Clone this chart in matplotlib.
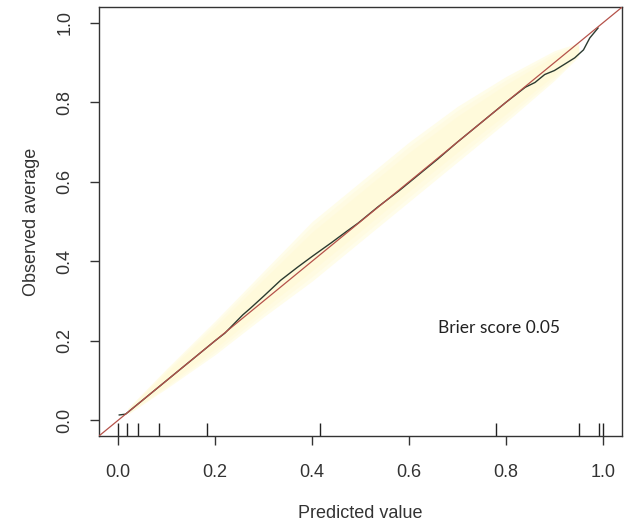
import numpy as np
import matplotlib.pyplot as plt
import matplotlib.transforms as mtransforms

# calibration curve
pred = [0.002, 0.015, 0.05, 0.10, 0.15, 0.20, 0.22, 0.257, 0.273, 0.30, 0.335, 0.37,
        0.40, 0.439, 0.47, 0.495, 0.536, 0.58, 0.62, 0.66, 0.70, 0.75, 0.80, 0.84,
        0.86, 0.88, 0.90, 0.925, 0.942, 0.96, 0.973, 0.99]
obs = [0.013, 0.015, 0.05, 0.10, 0.15, 0.20, 0.219, 0.265, 0.282, 0.312, 0.352, 0.385,
       0.412, 0.446, 0.474, 0.496, 0.537, 0.578, 0.618, 0.658, 0.70, 0.75, 0.80, 0.838,
       0.85, 0.87, 0.88, 0.899, 0.912, 0.932, 0.962, 0.987]

# confidence band
band_x = [0.02, 0.1, 0.2, 0.3, 0.4, 0.5, 0.6, 0.7, 0.8, 0.9, 0.95]
band_lo = [0.015, 0.08, 0.165, 0.26, 0.35, 0.45, 0.55, 0.65, 0.75, 0.855, 0.915]
band_hi = [0.03, 0.13, 0.25, 0.375, 0.50, 0.60, 0.70, 0.79, 0.865, 0.93, 0.95]

# rug of predicted values
rug = [0.0, 0.018, 0.04, 0.083, 0.183, 0.417, 0.779, 0.951, 0.991, 1.0]

ticks = [0.0, 0.2, 0.4, 0.6, 0.8, 1.0]
tick_labels = ["0.0", "0.2", "0.4", "0.6", "0.8", "1.0"]

plt.rcParams['font.family'] = ['Liberation Sans', 'DejaVu Sans']

fig = plt.figure(figsize=(6.26, 5.25), dpi=100)
ax = fig.add_axes([0.158, 0.1695, 0.836, 0.8172])

# band: pale outer layer plus slightly stronger core
bx = np.array(band_x)
lo = np.array(band_lo)
hi = np.array(band_hi)
mid = (lo + hi) / 2
ax.fill_between(bx, lo, hi, color='#fffdea', lw=0, zorder=1)
for f in [0.85, 0.65]:
    ax.fill_between(bx, mid - (mid - lo) * f, mid + (hi - mid) * f,
                    color='#fff6c0', alpha=0.18, lw=0, zorder=1)

ax.plot(pred, obs, color='#2b3a30', lw=1.0, zorder=3)
ax.plot([-0.04, 1.04], [-0.04, 1.04], color='#b5524a', lw=0.9, zorder=4)

trans = mtransforms.blended_transform_factory(ax.transData, ax.transAxes)
ax.vlines(rug, 0, 0.03, transform=trans, color='#222222', lw=1.0)

ax.text(0.66, 0.232, "Brier score 0.05", fontsize=12.5, family=['Lato', 'DejaVu Sans'],
        color='#222222', va='center', ha='left')

ax.set_xlim(-0.04, 1.04)
ax.set_ylim(-0.04, 1.04)
ax.set_xticks(ticks)
ax.set_xticklabels(tick_labels)
ax.set_yticks(ticks)
ax.set_yticklabels(tick_labels, rotation=90, va='center')
ax.tick_params(axis='both', length=6.5, width=1.0, color='#333333', labelsize=13,
               labelcolor='#333333')
ax.tick_params(axis='x', pad=14)
ax.tick_params(axis='y', pad=12)
for s in ax.spines.values():
    s.set_color('#333333')
    s.set_linewidth(1.0)

ax.set_xlabel("Predicted value", fontsize=13, color='#333333', labelpad=17)
ax.set_ylabel("Observed average", fontsize=13, color='#333333', labelpad=12)

fig.savefig("out.png", dpi=100)
